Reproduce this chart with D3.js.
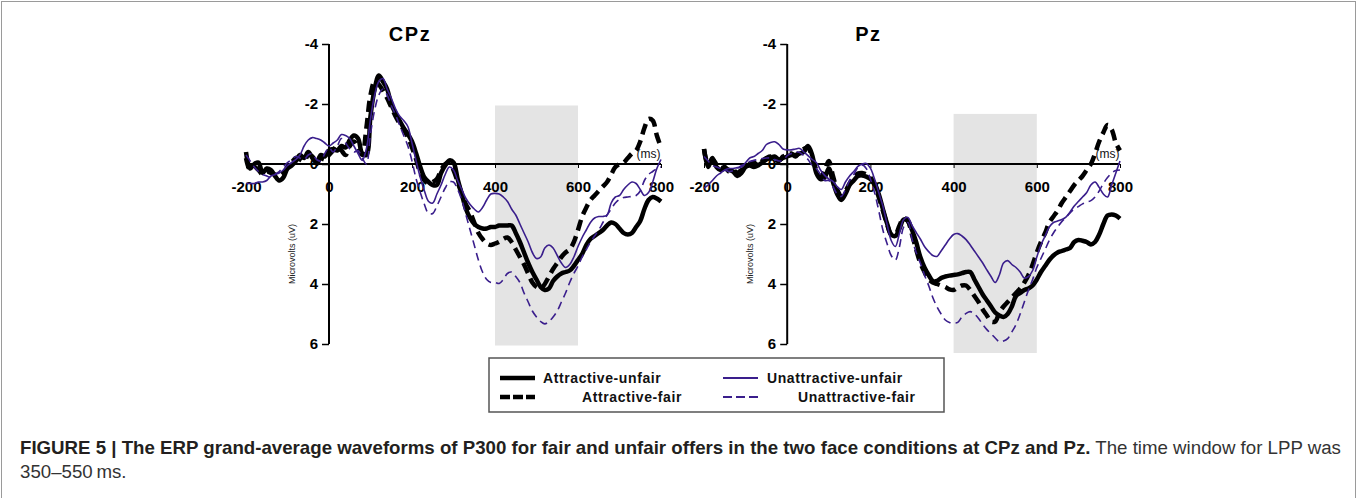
<!DOCTYPE html>
<html><head><meta charset="utf-8">
<script src="https://cdnjs.cloudflare.com/ajax/libs/d3/7.8.5/d3.min.js"></script>
<style>
html,body{margin:0;padding:0;background:#fff;}
svg{display:block;font-family:"Liberation Sans",Arial,Helvetica,sans-serif;}
</style></head>
<body>
<svg id="chart" width="1358" height="498"></svg>
<script>
// ---- Data ----
const times = d3.range(-200, 801, 10);
const xTicks = [-200, 0, 200, 400, 600, 800];
const yTicks = [-4, -2, 0, 2, 4, 6];
const panelTitles = ["CPz", "Pz"];
const seriesNames = ["Attractive-unfair", "Attractive-fair", "Unattractive-unfair", "Unattractive-fair"];
const lppWindow = [400, 600];
const shadeCPz = [-1.95, 6.05];
const shadePz = [-1.67, 6.3];

const cpzAU = [-0.4,0.15,0.0,-0.05,0.3,0.15,0.2,0.4,0.55,0.45,0.15,0.05,-0.1,-0.3,-0.2,-0.4,-0.2,-0.05,-0.3,-0.25,
 -0.45,-0.5,-0.45,-0.6,-0.55,-0.8,-0.95,-0.85,-0.35,-0.3,-1.6,-2.5,-2.95,-2.75,-2.5,-2.0,-1.7,-1.45,-1.2,-1.0,
 -0.75,-0.35,0.1,0.45,0.6,0.7,0.7,0.3,0.05,-0.12,-0.05,0.5,1.0,1.5,1.8,2.0,2.1,2.15,2.15,2.1,
 2.1,2.05,2.05,2.05,2.05,2.3,2.6,2.95,3.3,3.6,3.85,4.1,4.2,4.15,3.9,3.75,3.65,3.6,3.55,3.4,
 3.2,3.0,2.7,2.5,2.4,2.3,2.2,2.05,1.95,2.0,2.15,2.3,2.35,2.3,2.1,1.9,1.5,1.2,1.1,1.15,1.25];
const cpzAF = [-0.2,0.2,0.1,0.2,0.35,0.25,0.3,0.35,0.4,0.3,0.1,-0.05,-0.2,-0.15,-0.1,-0.3,-0.25,0.0,-0.2,-0.15,
 -0.3,-0.45,-0.6,-0.45,-0.3,-0.6,-0.75,-0.55,-0.3,-1.2,-2.3,-2.75,-2.65,-2.45,-2.2,-1.9,-1.6,-1.35,-1.15,-0.9,
 -0.55,-0.15,0.3,0.55,0.65,0.6,0.5,0.2,0.0,-0.05,0.2,0.6,1.0,1.35,1.6,1.95,2.3,2.5,2.65,2.7,
 2.65,2.6,2.5,2.45,2.6,2.85,3.1,3.35,3.65,3.95,4.1,4.15,4.0,3.75,3.5,3.3,3.1,2.95,2.85,2.6,
 2.2,1.75,1.45,1.2,1.05,0.9,0.75,0.6,0.35,0.1,0.0,-0.05,-0.2,-0.35,-0.45,-0.75,-1.2,-1.5,-1.45,-0.95,-0.55];
const cpzUU = [0.65,0.65,0.65,0.6,0.6,0.55,0.4,0.35,0.3,0.2,0.05,-0.05,-0.15,-0.3,-0.6,-0.8,-0.88,-0.85,-0.8,-0.7,
 -0.6,-0.7,-0.8,-0.98,-0.95,-0.85,-0.6,-0.35,-0.12,-0.5,-1.5,-2.3,-2.75,-2.85,-2.5,-2.2,-1.85,-1.6,-1.45,-1.25,
 -0.7,-0.1,0.45,0.9,1.25,1.3,1.0,0.7,0.35,0.1,0.2,0.55,0.85,1.15,1.35,1.5,1.6,1.45,1.2,1.0,
 0.98,1.0,1.1,1.25,1.5,1.7,2.0,2.3,2.6,2.95,3.15,3.1,2.8,2.7,2.8,3.05,3.3,3.45,3.35,3.1,
 2.75,2.45,2.2,1.95,1.8,1.75,1.75,1.7,1.3,1.1,1.05,0.85,0.7,0.6,0.65,0.85,1.05,0.95,0.6,0.15,-0.15];
const cpzUF = [-0.3,-0.1,0.1,0.25,0.35,0.4,0.45,0.35,0.25,0.1,-0.05,-0.15,-0.25,-0.2,-0.15,-0.3,-0.35,-0.15,-0.1,-0.35,
 -0.55,-0.4,-0.6,-0.85,-0.7,-0.5,-0.4,-0.45,-0.2,0.0,-1.0,-1.8,-2.3,-2.5,-2.3,-1.95,-1.65,-1.3,-0.95,-0.6,
 -0.1,0.5,0.95,1.35,1.65,1.65,1.4,1.1,0.8,0.6,0.6,0.85,1.2,1.7,2.2,2.7,3.2,3.6,3.85,3.95,
 3.95,3.98,3.85,3.65,3.6,3.75,3.95,4.3,4.6,4.9,5.1,5.25,5.33,5.25,5.1,4.9,4.6,4.3,3.95,3.65,
 3.4,3.1,2.85,2.6,2.4,2.2,1.95,1.7,1.5,1.3,1.18,1.12,1.1,1.08,1.05,0.9,0.55,0.35,0.25,0.15,0.1];

const pzAU = [-0.5,0.1,-0.2,0.1,0.2,0.15,0.2,0.25,0.4,0.3,0.1,0.05,0.1,0.05,-0.05,-0.15,-0.2,-0.25,-0.15,-0.2,
 -0.25,-0.3,-0.3,-0.35,-0.4,-0.6,-0.3,0.3,0.5,0.45,0.15,0.6,1.0,1.2,1.0,0.7,0.55,0.4,0.38,0.42,
 0.5,0.65,1.0,1.5,1.98,2.35,2.4,2.15,1.85,1.9,2.2,2.6,3.1,3.45,3.7,3.9,3.9,3.8,3.75,3.72,
 3.7,3.68,3.64,3.6,3.6,3.85,4.1,4.35,4.55,4.75,4.95,5.05,5.1,5.0,4.75,4.4,4.3,4.2,4.15,4.05,
 3.85,3.6,3.4,3.2,3.05,2.95,2.9,2.85,2.8,2.6,2.53,2.56,2.6,2.68,2.6,2.35,2.0,1.72,1.68,1.72,1.82];
const pzAF = [-0.5,0.0,-0.15,0.0,0.15,0.1,0.25,0.2,0.3,0.2,0.15,0.0,-0.05,0.05,-0.1,-0.2,-0.25,-0.15,-0.1,-0.25,
 -0.3,-0.35,-0.25,-0.4,-0.5,-0.55,-0.2,0.2,0.45,0.2,-0.1,0.4,0.85,1.05,0.9,0.65,0.45,0.32,0.3,0.35,
 0.45,0.7,1.1,1.55,2.0,2.35,2.35,2.05,1.8,1.9,2.35,2.85,3.3,3.6,3.85,3.95,4.0,4.05,4.1,4.18,
 4.2,4.12,4.05,4.05,4.2,4.4,4.6,4.85,5.05,5.25,5.25,4.95,4.75,4.6,4.45,4.3,4.15,3.95,3.7,3.35,
 2.95,2.6,2.3,1.95,1.75,1.55,1.3,1.1,0.9,0.7,0.55,0.4,0.2,0.0,-0.35,-0.75,-1.05,-1.3,-1.15,-0.7,-0.45];
const pzUU = [0.8,0.7,0.55,0.4,0.3,0.2,0.15,0.15,0.12,0.1,-0.05,-0.2,-0.25,-0.35,-0.45,-0.65,-0.72,-0.74,-0.65,-0.5,
 -0.47,-0.47,-0.5,-0.52,-0.4,-0.28,-0.15,-0.05,0.2,0.38,0.5,0.58,0.75,0.85,0.6,0.4,0.25,0.08,0.0,-0.02,
 0.14,0.5,0.95,1.4,2.0,2.55,2.75,2.3,1.85,1.78,2.05,2.28,2.5,2.75,2.92,3.05,3.08,2.9,2.7,2.5,
 2.35,2.32,2.4,2.52,2.7,2.9,3.1,3.3,3.53,3.75,3.95,3.7,3.3,3.22,3.35,3.45,3.6,3.8,3.75,3.55,
 3.1,2.7,2.4,2.1,1.95,1.9,1.85,1.77,1.6,1.4,1.25,1.1,0.95,0.7,0.6,0.78,1.0,1.1,0.7,0.3,-0.1];
const pzUF = [-0.25,-0.1,0.05,0.1,0.15,0.2,0.25,0.22,0.15,0.05,0.0,-0.08,-0.12,-0.15,-0.18,-0.2,-0.2,-0.15,-0.1,-0.12,
 -0.28,-0.35,-0.41,-0.38,-0.28,-0.15,0.05,0.15,0.35,0.55,0.55,0.75,1.0,1.08,0.85,0.55,0.35,0.12,0.03,0.15,
 0.5,0.95,1.55,2.2,2.65,3.05,3.2,2.75,2.1,1.95,2.5,2.95,3.3,3.7,4.05,4.45,4.76,5.0,5.2,5.28,
 5.3,5.28,5.1,4.98,4.92,5.0,5.15,5.35,5.52,5.66,5.8,5.92,5.9,5.82,5.6,5.35,5.0,4.6,4.2,3.85,
 3.45,3.15,2.85,2.55,2.3,2.1,1.92,1.78,1.63,1.5,1.42,1.33,1.27,1.22,1.1,0.9,0.65,0.45,0.3,0.22,0.2];

const captionBold = "FIGURE 5 | The ERP grand-average waveforms of P300 for fair and unfair offers in the two face conditions at CPz and Pz.";
const captionRest = " The time window for LPP was";
const captionLine2 = "350\u2013550\u2009ms.";

// ---- Styles ----
const PURPLE = "#3a1e8c";
const styles = [
  {color:"#000", width:4.5, dash:null},
  {color:"#000", width:4.5, dash:"11,6"},
  {color:PURPLE, width:1.6, dash:null},
  {color:PURPLE, width:1.6, dash:"8,5"}
];
const FONT = "\"Liberation Sans\",Arial,sans-serif";
const fmt = d => String(d);

const svg = d3.select("#chart");
svg.append("rect").attr("x",1.5).attr("y",1.5).attr("width",1354).attr("height",600)
  .attr("fill","none").attr("stroke","#9a9a9a").attr("stroke-width",1);

const panels = [
  {title:panelTitles[0], xr:[246,661], series:[cpzAU,cpzAF,cpzUU,cpzUF], shade:shadeCPz},
  {title:panelTitles[1], xr:[704,1120], series:[pzAU,pzAF,pzUU,pzUF], shade:shadePz}
];

panels.forEach(p => {
  const x = d3.scaleLinear().domain([-200,800]).range(p.xr);
  const y = d3.scaleLinear().domain([-4,6]).range([44,344]);
  const g = svg.append("g");

  // shaded LPP window
  g.append("rect")
    .attr("x", x(lppWindow[0])).attr("width", x(lppWindow[1]) - x(lppWindow[0]))
    .attr("y", y(p.shade[0])).attr("height", y(p.shade[1]) - y(p.shade[0]))
    .attr("fill","#e4e4e4");

  // y axis
  const yAx = g.append("g").attr("transform",`translate(${x(0)},0)`)
    .call(d3.axisLeft(y).tickValues(yTicks).tickSize(7).tickPadding(4).tickFormat(fmt));
  yAx.select(".domain").attr("stroke","#000").attr("stroke-width",2).attr("d",`M0,${y(-4)}V${y(6)}`);
  yAx.selectAll(".tick line").attr("stroke","#000").attr("stroke-width",1.5);
  yAx.selectAll(".tick text").attr("font-size",15).attr("font-weight","bold").attr("fill","#000")
    .attr("font-family",FONT);

  // x axis at zero
  const xAx = g.append("g").attr("transform",`translate(0,${y(0)})`)
    .call(d3.axisBottom(x).tickValues(xTicks).tickSize(4).tickPadding(13).tickFormat(fmt));
  xAx.select(".domain").attr("stroke","#000").attr("stroke-width",2).attr("d",`M${x(-200)},0H${x(800)}`);
  xAx.selectAll(".tick line").attr("stroke","#000").attr("stroke-width",1);
  xAx.selectAll(".tick text").attr("font-size",15).attr("font-weight","bold").attr("fill","#000")
    .attr("font-family",FONT);

  // title
  g.append("text").attr("x", x(200) - 2).attr("y", 41).attr("text-anchor","middle")
    .attr("font-size",20).attr("font-weight","bold").attr("letter-spacing",1.5).text(p.title);
  // y label
  g.append("text").attr("transform",`translate(${x(0)-34},${y(3)}) rotate(-90)`)
    .attr("text-anchor","middle").attr("font-size",9).attr("fill","#222").text("Microvolts (uV)");
  // ms label
  g.append("text").attr("x", x(770)).attr("y", y(0) - 6).attr("text-anchor","middle")
    .attr("font-size",12).attr("fill","#111").text("(ms)");

  // waveforms
  const line = d3.line().x((d,i)=>x(times[i])).y(d=>y(d)).curve(d3.curveCatmullRom.alpha(0.5));
  p.series.forEach((s,i) => {
    const st = styles[i];
    g.append("path").datum(s).attr("d", line).attr("fill","none")
      .attr("stroke", st.color).attr("stroke-width", st.width)
      .attr("stroke-dasharray", st.dash).attr("stroke-linejoin","round");
  });
});

// ---- Legend ----
const lg = svg.append("g");
lg.append("rect").attr("x",489).attr("y",358).attr("width",455).attr("height",54)
  .attr("fill","#fff").attr("stroke","#555").attr("stroke-width",1.5);
const legendItems = [
  {i:0, lx:500, ty:378, tx:543},
  {i:1, lx:500, ty:397, tx:582},
  {i:2, lx:723, ty:378, tx:767},
  {i:3, lx:723, ty:397, tx:798}
];
legendItems.forEach(it => {
  const st = styles[it.i];
  lg.append("line").attr("x1",it.lx).attr("x2",it.lx+35).attr("y1",it.ty).attr("y2",it.ty)
    .attr("stroke",st.color).attr("stroke-width", it.i<2 ? 4.5 : 1.8)
    .attr("stroke-dasharray", st.dash ? (it.i===1 ? "10,3" : "9,4") : null);
  lg.append("text").attr("x",it.tx).attr("y",it.ty+5).attr("font-size",14).attr("font-weight","bold")
    .attr("letter-spacing",0.6).attr("fill","#111").text(seriesNames[it.i]);
});

// ---- Caption ----
const cap = svg.append("text").attr("x",20).attr("y",454).attr("font-size",15).attr("fill","#231f20");
cap.append("tspan").attr("font-weight","bold").text(captionBold);
cap.append("tspan").attr("fill","#333").text(captionRest);
const w = cap.node().getComputedTextLength();
const fs = 15 * 1322 / w;
cap.attr("font-size", fs);
svg.append("text").attr("x",20).attr("y",478).attr("font-size",fs).attr("fill","#333").text(captionLine2);
</script>
</body></html>
